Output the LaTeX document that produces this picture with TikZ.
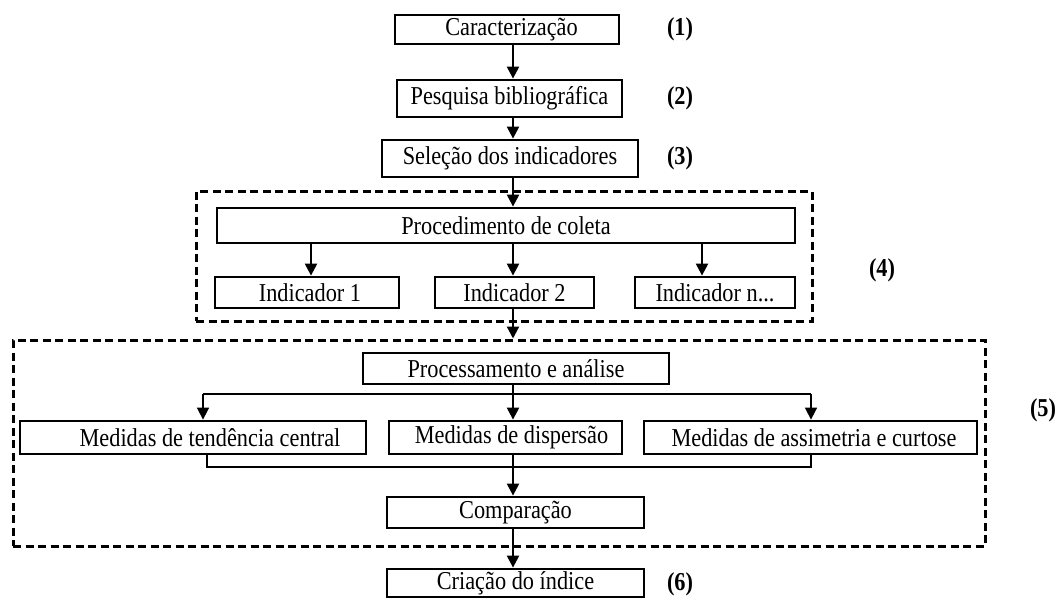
\documentclass[tikz,border=0pt]{standalone}
\usepackage{fontspec}
\setmainfont{Liberation Serif}
\usetikzlibrary{arrows.meta}
\newcommand{\tall}[1]{\scalebox{0.97}[1.12]{#1}}
\begin{document}
\begin{tikzpicture}[x=1pt,y=-1pt,
  box/.style={draw, line width=2.8pt, inner sep=0pt, font=\fontsize{23}{26}\selectfont},
  group/.style={draw, line width=3pt, dash pattern=on 8pt off 4.5pt, inner sep=0pt},
  arr/.style={line width=2.2pt, -{Triangle[length=12pt,width=12pt]}},
  arrthin/.style={line width=1.6pt, -{Triangle[length=12pt,width=12pt]}},
  thinline/.style={line width=1.3pt},
  lbl/.style={font=\fontsize{23}{26}\selectfont\bfseries, inner sep=0pt}]
\useasboundingbox (0,0) rectangle (1060,598);
% groups
\node[group, minimum width=616pt, minimum height=130pt] (g4) at (504,256) {};
\node[group, minimum width=972pt, minimum height=206pt] (g5) at (499,443) {};
% boxes
\node[box, minimum width=224pt, minimum height=29pt] (car) at (507,29.5) {\hspace*{9pt}\tall{Caracterização}};
\node[box, minimum width=225pt, minimum height=37pt] (pes) at (509.5,98.5) {\tall{Pesquisa bibliográfica}};
\node[box, minimum width=256pt, minimum height=37pt] (sel) at (510,158.5) {\tall{Seleção dos indicadores}};
\node[box, minimum width=578pt, minimum height=35pt] (proc) at (506,225.5) {\tall{Procedimento de coleta}};
\node[box, minimum width=184pt, minimum height=31pt] (ind1) at (307,292.5) {\hspace*{6pt}\tall{Indicador 1}};
\node[box, minimum width=159pt, minimum height=31pt] (ind2) at (514.5,292.5) {\tall{Indicador 2}};
\node[box, minimum width=160pt, minimum height=31pt] (indn) at (715,292.5) {\tall{Indicador n...}};
\node[box, minimum width=306pt, minimum height=31pt] (proc2) at (516,368.5) {\tall{Processamento e análise}};
\node[box, minimum width=346pt, minimum height=33pt] (mtc) at (193,437.5) {\hspace*{34pt}\tall{Medidas de tendência central}};
\node[box, minimum width=233pt, minimum height=33pt] (mdisp) at (505.5,437.5) {\hspace*{12pt}\tall{Medidas de dispersão}};
\node[box, minimum width=333pt, minimum height=33pt] (mass) at (810.5,437.5) {\hspace*{7pt}\tall{Medidas de assimetria e curtose}};
\node[box, minimum width=257pt, minimum height=31pt] (comp) at (515.5,512.5) {\tall{Comparação}};
\node[box, minimum width=257pt, minimum height=28pt] (cri) at (515.5,583) {\tall{Criação do índice}};
% labels
\node[lbl] (l1) at (680,29) {\tall{(1)}};
\node[lbl] (l2) at (680,98) {\tall{(2)}};
\node[lbl] (l3) at (680,158) {\tall{(3)}};
\node[lbl] (l4) at (882,270) {\tall{(4)}};
\node[lbl] (l5) at (1043,410) {\tall{(5)}};
\node[lbl] (l6) at (680,584) {\tall{(6)}};
% connectors
\coordinate (mid) at (513,0);
\coordinate (c1) at (311,0);
\coordinate (c3) at (702,0);
\draw[arr] (car.south -| mid) -- (pes.north -| mid);
\draw[arr] (pes.south -| mid) -- (sel.north -| mid);
\draw[arr] (sel.south -| mid) -- (proc.north -| mid);
\draw[arr] (proc.south -| c1) -- (ind1.north -| c1);
\draw[arr] (proc.south -| mid) -- (ind2.north -| mid);
\draw[arr] (proc.south -| c3) -- (indn.north -| c3);
\draw[arr] (ind2.south -| mid) -- (g5.north -| mid);
\coordinate (hl) at (203,394);
\coordinate (hr) at (811,394);
\draw[thinline] (hl) -- (hr);
\draw[arr] (proc2.south -| mid) -- (mdisp.north -| mid);
\draw[arrthin] (hl) -- (mtc.north -| hl);
\draw[arrthin] (hr) -- (mass.north -| hr);
\coordinate (bl) at (207,467);
\coordinate (br) at (811,467);
\draw[thinline] (mtc.south -| bl) -- (bl) -- (br) -- (mass.south -| br);
\draw[arr] (mdisp.south -| mid) -- (comp.north -| mid);
\draw[arr] (comp.south -| mid) -- (cri.north -| mid);
\end{tikzpicture}
\end{document}
